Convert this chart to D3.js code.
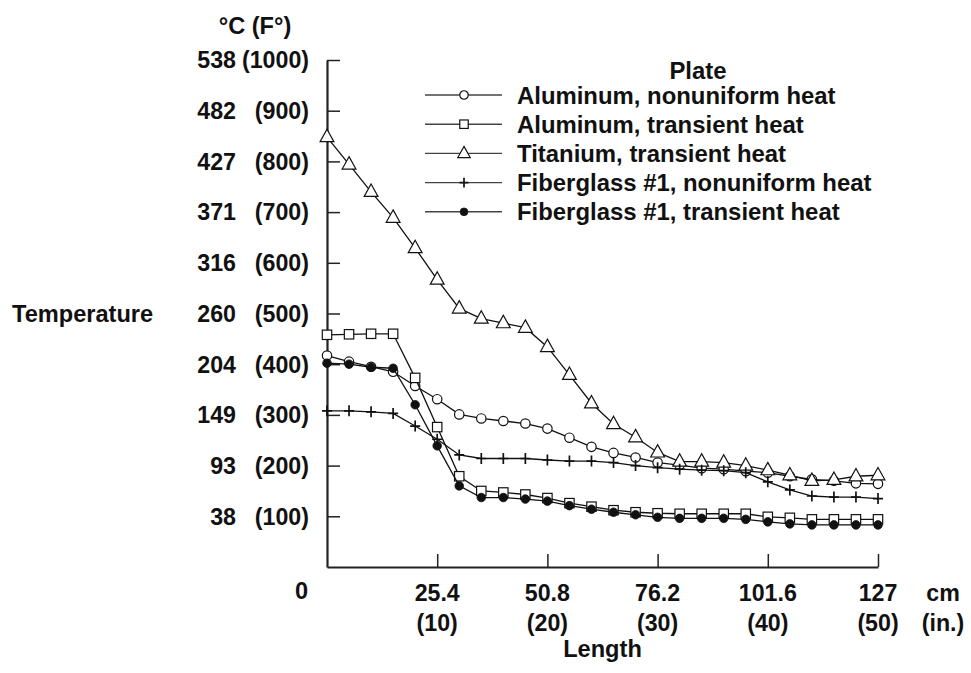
<!DOCTYPE html>
<html>
<head>
<meta charset="utf-8">
<script src="https://cdn.jsdelivr.net/npm/d3@7/dist/d3.min.js"></script>
<style>
  html, body { margin: 0; padding: 0; background: #fff; }
  svg { display: block; }
  text { font-family: "Liberation Sans", Arial, Helvetica, sans-serif; font-weight: bold; fill: #111; }
</style>
</head>
<body>
<svg id="chart" width="971" height="673"></svg>
<script>
// ---- data ----
const lengthIn = [0,2,4,6,8,10,12,14,16,18,20,22,24,26,28,30,32,34,36,38,40,42,44,46,48,50];
const aluminumNonuniform = [417,405,395,385,357,331,301,293,288,283,273,255,237,225,216,206,201,195,193,189,186,179,173,170,165,164];
const aluminumTransient  = [458,459,460,460,373,276,179,150,147,143,136,126,119,112,108,106,105,105,105,105,99,97,94,94,94,94];
const titaniumTransient  = [848,794,740,689,629,567,510,490,481,472,434,379,323,282,256,226,208,208,206,200,191,181,170,172,179,181];
const fiberglassNonuniform = [308,308,306,303,278,252,221,214,214,214,211,209,209,206,200,196,193,191,190,186,168,152,140,138,138,135];
const fiberglassTransient  = [402,400,394,392,320,239,160,137,137,134,130,121,114,108,103,98,96,96,96,94,89,85,83,83,83,83];

const seriesNames = ["Aluminum, nonuniform heat","Aluminum, transient heat","Titanium, transient heat","Fiberglass #1, nonuniform heat","Fiberglass #1, transient heat"];
const seriesMarkers = ["circle","square","triangle","plus","dot"];

const yTicksF = [100,200,300,400,500,600,700,800,900,1000];
const yTicksC = ["38","93","149","204","260","316","371","427","482","538"];
const xTicksIn = [10,20,30,40,50];
const xTicksCm = ["25.4","50.8","76.2","101.6","127"];

const series = [aluminumNonuniform, aluminumTransient, titaniumTransient, fiberglassNonuniform, fiberglassTransient];

// ---- layout ----
const svg = d3.select("#chart");
const FS = 23.6, FS_TICK = 23.2, FS_LEG = 23.9;
const x = d3.scaleLinear().domain([0,50]).range([327,878]);
const y = d3.scaleLinear().domain([0,1000]).range([567,60]);

// axes
const yAxis = d3.axisRight(y).tickValues(yTicksF).tickSize(13).tickSizeOuter(0).tickFormat("");
const gy = svg.append("g").attr("transform", `translate(${x(0)},0)`).call(yAxis);
const xAxis = d3.axisTop(x).tickValues(xTicksIn).tickSize(13).tickSizeOuter(0).tickFormat("");
const gx = svg.append("g").attr("transform", `translate(0,${y(0)})`).call(xAxis);
[gy, gx].forEach(g => {
  g.select(".domain").attr("stroke", "#222").attr("stroke-width", 2.2);
  g.selectAll(".tick line").attr("stroke", "#222").attr("stroke-width", 1.5);
});

// y tick labels
const yl = svg.append("g");
yl.selectAll("text.f").data(yTicksF).join("text")
  .attr("class","f").attr("x", 309).attr("y", d => y(d)).attr("dy","0.36em")
  .attr("text-anchor","end").attr("font-size", FS_TICK).text(d => `(${d})`);
yl.selectAll("text.c").data(yTicksC).join("text")
  .attr("class","c").attr("x", 236).attr("y", (d,i) => y(yTicksF[i])).attr("dy","0.36em")
  .attr("text-anchor","end").attr("font-size", FS_TICK).text(d => d);
svg.append("text").attr("x", 255).attr("y", 26).attr("dy","0.36em").attr("text-anchor","middle")
  .attr("font-size", FS).text("°C (F°)");
svg.append("text").attr("x", 308).attr("y", 591).attr("dy","0.36em").attr("text-anchor","end")
  .attr("font-size", FS).text("0");
svg.append("text").attr("x", 12).attr("y", y(500)).attr("dy","0.36em").attr("text-anchor","start")
  .attr("font-size", FS).text("Temperature");

// x tick labels
const xl = svg.append("g");
xl.selectAll("text.cm").data(xTicksCm).join("text")
  .attr("class","cm").attr("x", (d,i) => x(xTicksIn[i])).attr("y", 601)
  .attr("text-anchor","middle").attr("font-size", FS_TICK).text(d => d);
xl.selectAll("text.in").data(xTicksIn).join("text")
  .attr("class","in").attr("x", d => x(d)).attr("y", 631)
  .attr("text-anchor","middle").attr("font-size", FS_TICK).text(d => `(${d})`);
svg.append("text").attr("x", 943).attr("y", 601).attr("text-anchor","middle").attr("font-size", FS_TICK).text("cm");
svg.append("text").attr("x", 943).attr("y", 631).attr("text-anchor","middle").attr("font-size", FS_TICK).text("(in.)");
svg.append("text").attr("x", (x(0)+x(50))/2).attr("y", 657).attr("text-anchor","middle").attr("font-size", FS).text("Length");

// markers
function drawMarker(g, type, s) {
  s = s || 1;
  if (type === "circle") {
    g.append("circle").attr("r", 4.7*s).attr("fill","#fff").attr("stroke","#111").attr("stroke-width",1.2);
  } else if (type === "square") {
    g.append("rect").attr("x",-4.7*s).attr("y",-4.7*s).attr("width",9.4*s).attr("height",9.4*s)
      .attr("fill","#fff").attr("stroke","#111").attr("stroke-width",1.2);
  } else if (type === "triangle") {
    g.append("path").attr("d", `M0,${-7.8*s}L${6.9*s},${4.6*s}L${-6.9*s},${4.6*s}Z`)
      .attr("fill","#fff").attr("stroke","#111").attr("stroke-width",1.2);
  } else if (type === "plus") {
    g.append("path").attr("d", `M${-5*s},0H${5*s}M0,${-5.5*s}V${5.5*s}`)
      .attr("fill","none").attr("stroke","#111").attr("stroke-width",1.7);
  } else if (type === "dot") {
    g.append("circle").attr("r", 4.3*s).attr("fill","#111").attr("stroke","#111").attr("stroke-width",0.8);
  }
}

const line = d3.line().x((d,i) => x(lengthIn[i])).y(d => y(d));
series.forEach((vals, si) => {
  const g = svg.append("g");
  g.append("path").datum(vals).attr("d", line).attr("fill","none").attr("stroke","#111").attr("stroke-width",1.3);
  g.selectAll("g.m").data(vals).join("g").attr("class","m")
    .attr("transform", (d,i) => `translate(${x(lengthIn[i])},${y(d)})`)
    .each(function() { drawMarker(d3.select(this), seriesMarkers[si], 1); });
});

// legend
const lg = svg.append("g");
lg.append("text").attr("x", 698).attr("y", 70).attr("dy","0.36em").attr("text-anchor","middle")
  .attr("font-size", FS_LEG).text("Plate");
seriesNames.forEach((name, i) => {
  const yy = 95 + i*29.2;
  lg.append("line").attr("x1",425).attr("x2",502).attr("y1",yy).attr("y2",yy)
    .attr("stroke","#444").attr("stroke-width",1.4);
  const m = lg.append("g").attr("transform", `translate(464,${yy})`);
  drawMarker(m, seriesMarkers[i], 0.9);
  lg.append("text").attr("x", 517).attr("y", yy).attr("dy","0.36em").attr("font-size", FS_LEG).text(name);
});
</script>
</body>
</html>
